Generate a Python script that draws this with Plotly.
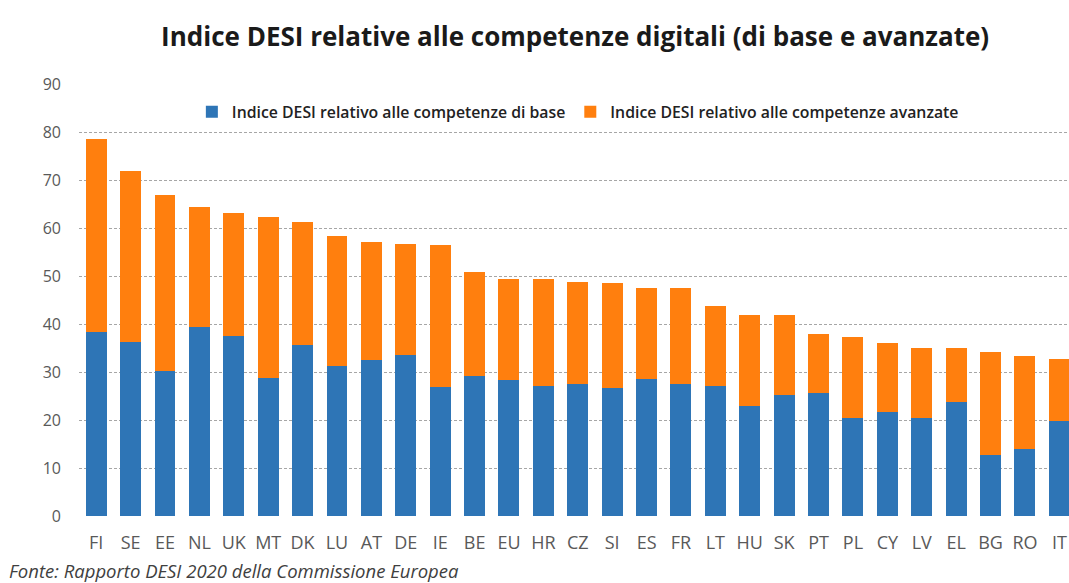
import plotly.graph_objects as go

# DESI 2020 digital skills index by country (basic and advanced components)
countries = ["FI", "SE", "EE", "NL", "UK", "MT", "DK", "LU", "AT", "DE", "IE", "BE", "EU", "HR",
             "CZ", "SI", "ES", "FR", "LT", "HU", "SK", "PT", "PL", "CY", "LV", "EL", "BG", "RO", "IT"]
totale = [78.5, 71.9, 66.9, 64.4, 63.2, 62.2, 61.3, 58.3, 57.0, 56.7, 56.4, 50.8, 49.3, 49.3,
          48.7, 48.6, 47.6, 47.6, 43.8, 41.9, 41.9, 37.9, 37.3, 36.0, 35.1, 34.9, 34.1, 33.4, 32.7]
base = [38.3, 36.3, 30.3, 39.3, 37.6, 28.8, 35.6, 31.3, 32.5, 33.6, 26.8, 29.2, 28.3, 27.1,
        27.5, 26.6, 28.5, 27.5, 27.1, 23.0, 25.2, 25.7, 20.4, 21.6, 20.5, 23.7, 12.7, 13.9, 19.8]
avanzate = [round(t - b, 1) for t, b in zip(totale, base)]

y_ticks = [0, 10, 20, 30, 40, 50, 60, 70, 80, 90]

BLUE = "#2e75b6"
ORANGE = "#ff7f0e"
FONT = "Open Sans"

fig = go.Figure()
fig.add_trace(go.Bar(
    x=countries, y=base, name="Indice DESI relativo alle competenze di base",
    marker=dict(color=BLUE, line=dict(width=0)),
))
fig.add_trace(go.Bar(
    x=countries, y=avanzate, name="Indice DESI relativo alle competenze avanzate",
    marker=dict(color=ORANGE, line=dict(width=0)),
))

fig.update_layout(
    width=1069, height=583,
    barmode="stack", bargap=0.39,
    plot_bgcolor="white", paper_bgcolor="white",
    margin=dict(l=79, r=0, t=84, b=67),
    font=dict(family=FONT, color="#595959"),
    title=dict(
        text="<b>Indice DESI relative alle competenze digitali (di base e avanzate)</b>",
        x=0.538, xanchor="center", y=0.937, yanchor="middle",
        font=dict(family=FONT, size=26, color="#1a1a1a"),
    ),
    legend=dict(
        orientation="h", x=0.114, xanchor="left", y=0.935, yanchor="middle",
        font=dict(family=FONT, size=15.8, color="#222222", weight=600),
        bgcolor="rgba(0,0,0,0)", itemwidth=30, traceorder="normal",
    ),
    xaxis=dict(
        type="category", range=[-0.5, 28.28],
        showline=False, ticks="", showgrid=False, ticklabelstandoff=14,
        tickfont=dict(family=FONT, size=18, color="#595959"),
    ),
    yaxis=dict(
        range=[0, 90], tickvals=y_ticks,
        showgrid=True, gridcolor="#a6a6a6", gridwidth=1.3, griddash="3px,2px",
        zeroline=False, showline=False, ticks="", ticklabelstandoff=17,
        tickfont=dict(family=FONT, size=16, color="#595959"),
    ),
)

fig.add_annotation(
    text="<i>Fonte: Rapporto DESI 2020 della Commissione Europea</i>",
    xref="paper", yref="paper", x=-0.073, y=-0.125, xanchor="left", yanchor="middle",
    showarrow=False, font=dict(family=FONT, size=18.5, color="#404040"),
)

fig.write_html("out.html")
